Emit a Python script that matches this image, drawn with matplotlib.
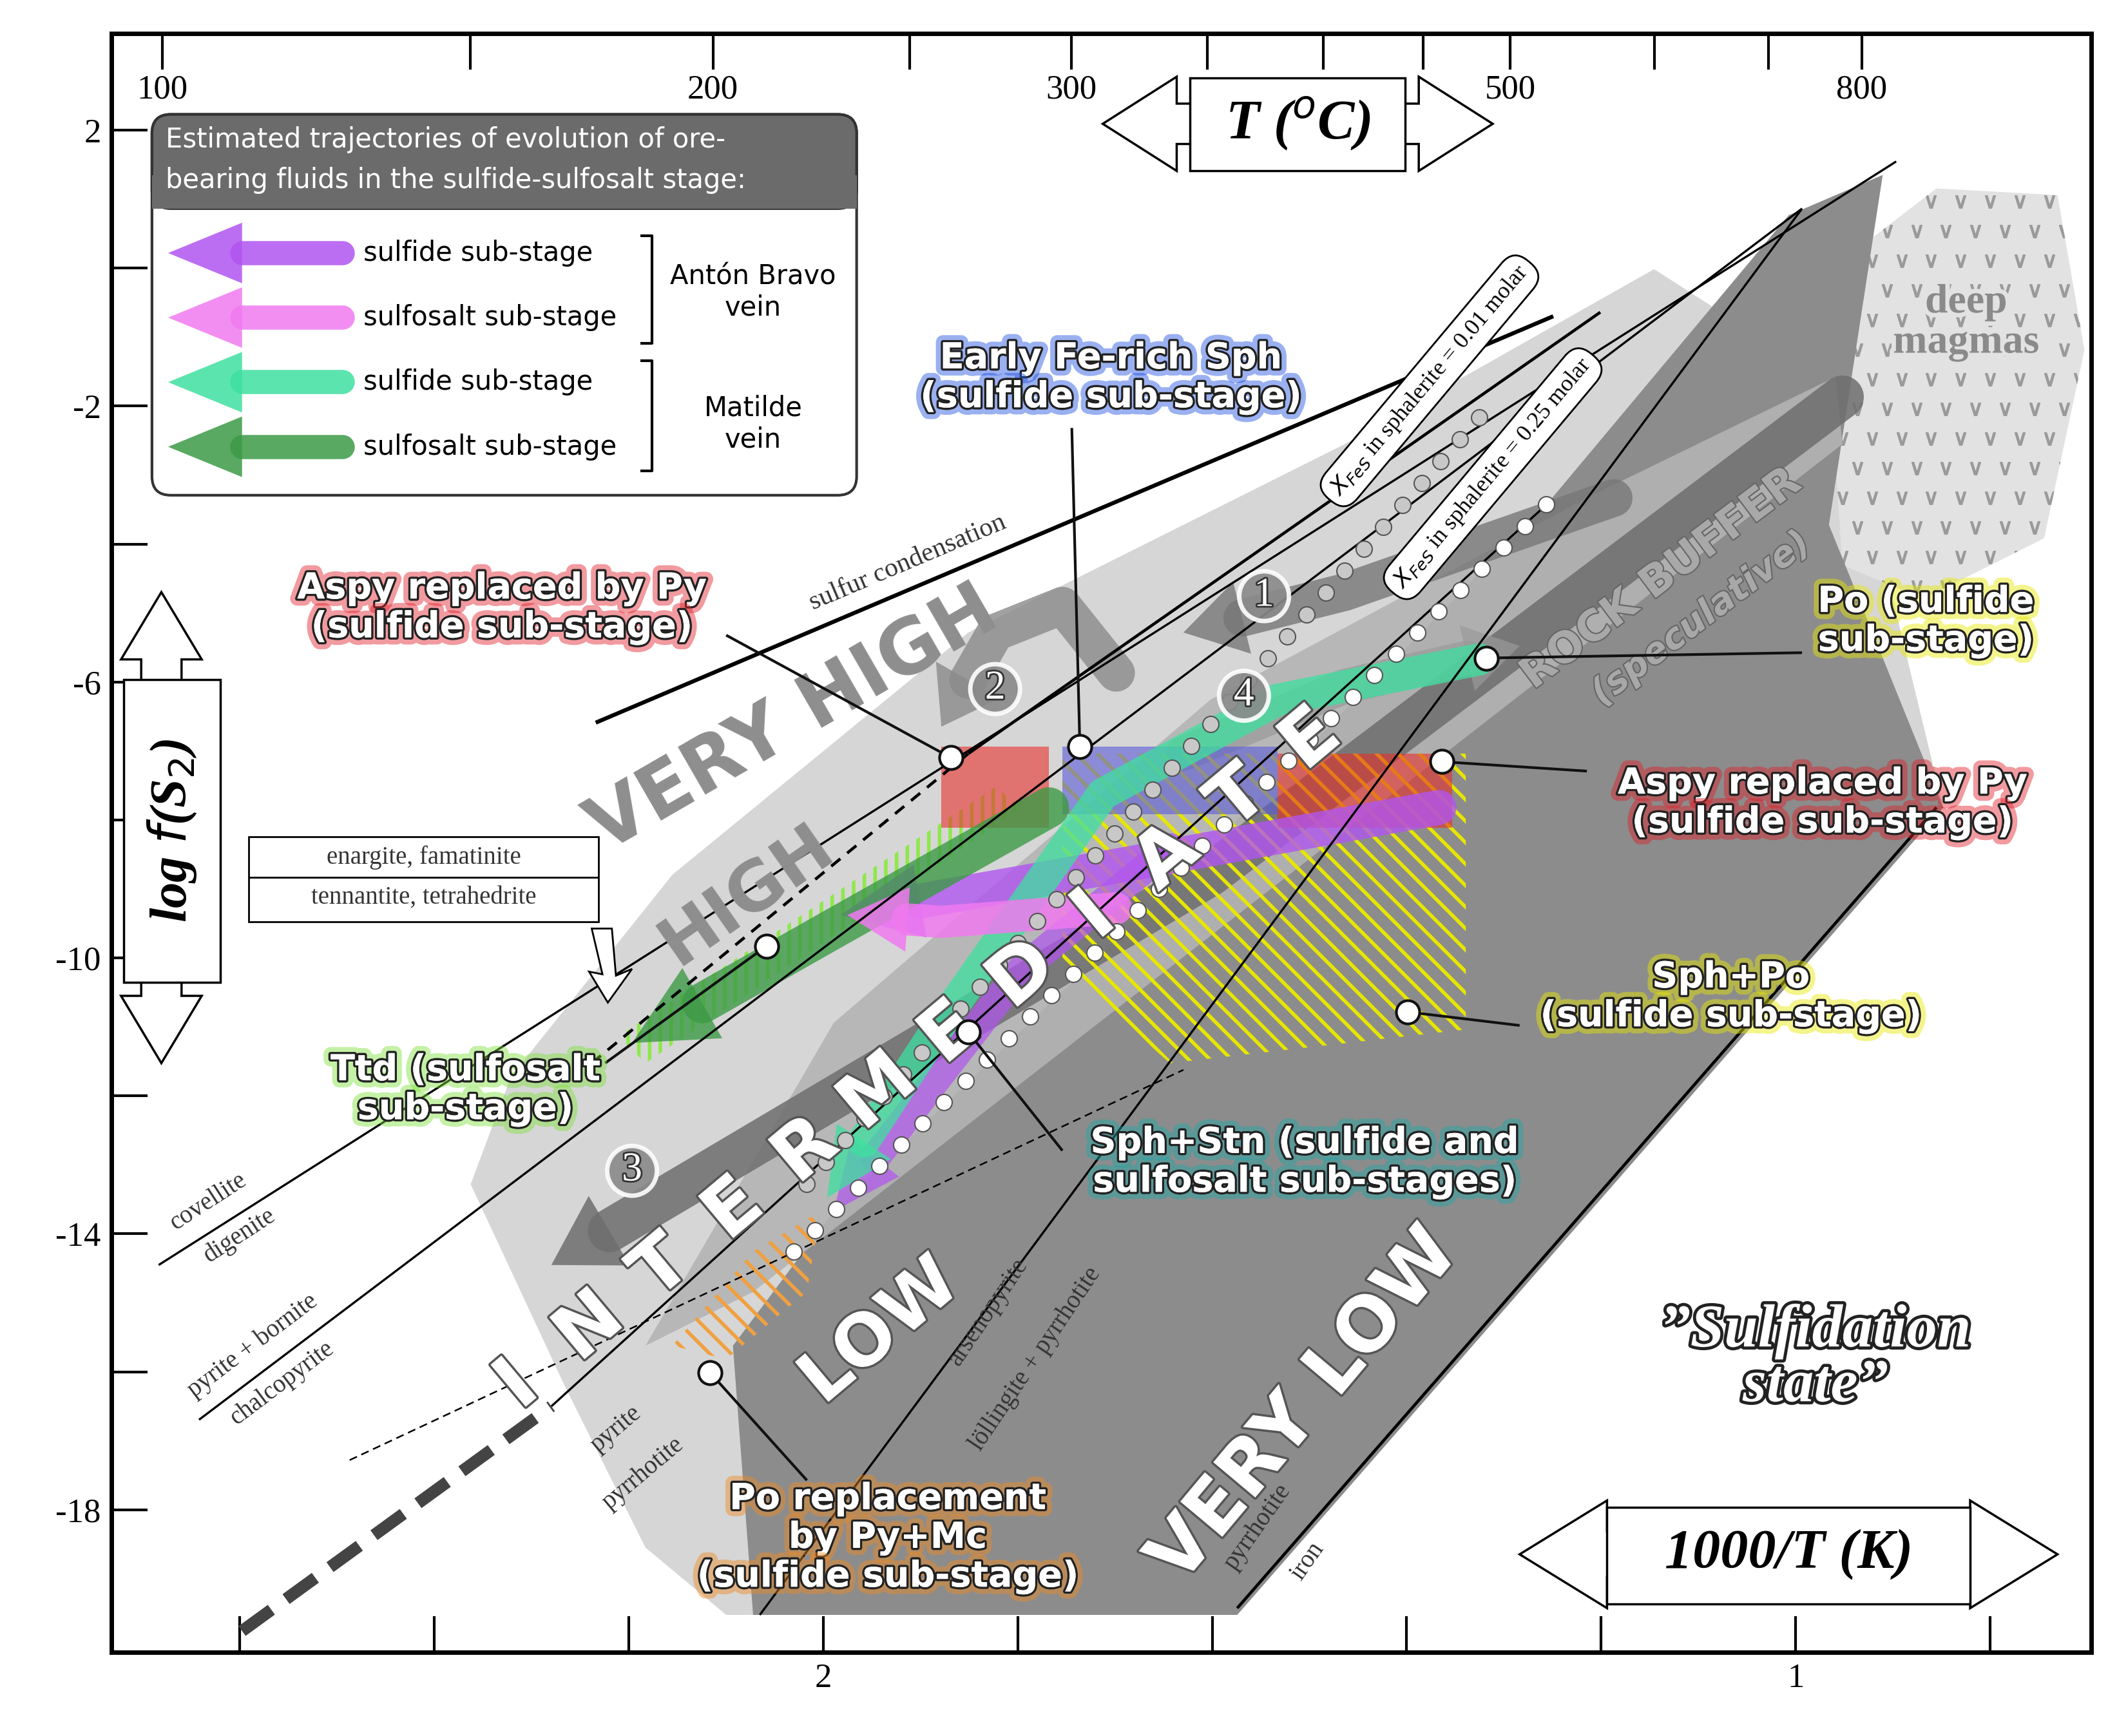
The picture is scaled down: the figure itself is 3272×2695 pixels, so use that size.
import numpy as np
import matplotlib
matplotlib.use("Agg")
import matplotlib.pyplot as plt
from matplotlib.transforms import Affine2D
from matplotlib.patches import Polygon, FancyBboxPatch
import matplotlib.patheffects as pe

plt.rcParams['hatch.linewidth'] = 4

# ---- axis data ----
x_lim = [2.732, 0.696]          # 1000/T(K), reversed
y_lim = [-20.07, 3.40]          # log f(S2)
x_major = [2.0, 1.0]
x_minor = [2.6, 2.4, 2.2, 1.8, 1.6, 1.4, 1.2, 0.8]
y_major = [2, -2, -6, -10, -14, -18]
y_minor = [0, -4, -8, -12, -16]
t_major = [100, 200, 300, 500, 800]
t_minor = [150, 250, 350, 400, 450, 600, 700]

# ---- schematic shapes (reference-image pixel frame) ----
light_zone = [(350, 880), (420, 1030), (480, 1150), (540, 1200), (920, 1200), (1445, 600),
              (1370, 290), (1230, 200), (1000, 330), (720, 470), (500, 650), (380, 800)]
dark_zone = [(560, 1200), (920, 1200), (1445, 600), (1360, 390), (1400, 130),
             (1330, 160), (1150, 375), (880, 650), (620, 900), (545, 1000)]
mid_band = [(480, 1000), (560, 960), (1370, 330), (1365, 280), (1180, 370), (900, 520), (620, 760)]
deep_magma = [(1375, 190), (1440, 140), (1530, 145), (1550, 260), (1520, 400),
              (1430, 445), (1370, 420), (1362, 300)]
hatch_yellow = [(790, 560), (1090, 560), (1090, 765), (870, 790), (790, 720)]
hatch_orange = [(500, 1000), (560, 930), (610, 900), (600, 960), (540, 1010)]
hatch_green = [(460, 770), (740, 585), (760, 600), (480, 790)]
red_rects = [((700, 555), 80, 60), ((950, 560), 130, 55)]
blue_rect = ((790, 555), 160, 50)

line_sulfur = [(443, 537), (1155, 235)]
line_cov = [(118, 940), (1410, 120)]
line_pybn = [(148, 1055), (1340, 155)]
line_en_dash = [(440, 790), (720, 560)]
line_en = [(720, 560), (1190, 232)]
line_pypo = [(410, 1045), (1150, 375)]
line_pypo_thick = [(180, 1212), (410, 1045)]
line_asp = [(260, 1085), (880, 795)]
line_lo = [(565, 1200), (1340, 155)]
line_pofe = [(920, 1195), (1440, 600)]
dots_white = [(590, 930), (1150, 375)]
dots_gray = [(600, 880), (1100, 310)]

fig = plt.figure(figsize=(32.73, 26.95), dpi=100)
ax = fig.add_axes([83/1568, 1 - 1228/1290, 1472/1568, 1203/1290])
ax.set_xlim(x_lim)
ax.set_ylim(y_lim)
T = Affine2D().scale(1/1472, -1/1203).translate(-83/1472, 1228/1203) + ax.transAxes
LW = 1.5  # points per reference pixel

def poly(pts, **kw):
    ax.add_patch(Polygon(pts, closed=True, transform=T, **kw))

def line(pts, **kw):
    p = np.array(pts)
    ax.plot(p[:, 0], p[:, 1], transform=T, solid_capstyle='butt', **kw)

def arrow(pts, w, hw, hl, color, alpha=0.75, z=5):
    p = np.array(pts, float)
    d = p[-1] - p[-2]; d /= np.hypot(*d)
    n = np.array([-d[1], d[0]])
    base = p[-1] - d * hl
    q = p.copy(); q[-1] = base
    ax.plot(q[:, 0], q[:, 1], transform=T, color=color, lw=w*LW, alpha=alpha,
            solid_capstyle='round', zorder=z)
    head = [base + n*hw/2, p[-1], base - n*hw/2]
    poly(head, fc=color, ec='none', alpha=alpha, zorder=z)

# zones
poly(light_zone, fc='#d6d6d6', ec='none', zorder=1)
poly(dark_zone, fc='#8c8c8c', ec='none', zorder=2)
poly(mid_band, fc='#b4b4b4', ec='none', zorder=2, alpha=0.9)
dm = Polygon(deep_magma, closed=True, transform=T, fc='#e2e2e2', ec='none', zorder=1)
ax.add_patch(dm)
gx, gy = np.meshgrid(np.arange(1370, 1550, 22), np.arange(150, 445, 22))
gx = gx + (np.arange(gx.shape[0])[:, None] % 2) * 11
vm, = ax.plot(gx.ravel(), gy.ravel(), ls='none', marker=r'$\vee$', ms=14, color='#9a9a9a',
              transform=T, zorder=1.5)
vm.set_clip_path(dm)
ax.text(1462, 240, 'deep\nmagmas', transform=T, fontsize=46, family='Liberation Serif',
        fontweight='bold', color='#8a8a8a', ha='center', va='center', zorder=3, linespacing=1.1,
        path_effects=[pe.withStroke(linewidth=10, foreground='#e2e2e2')])

# gray numbered arrows
arrow([(1370, 295), (900, 650), (410, 940)], 32, 60, 50, '#6e6e6e', 0.85, 3)
arrow([(1200, 370), (1000, 440), (880, 470)], 28, 55, 45, '#777777', 0.8, 3)
arrow([(830, 500), (790, 450), (740, 470), (700, 540)], 28, 55, 40, '#8a8a8a', 0.8, 3)
arrow([(880, 560), (1000, 510), (1130, 480)], 26, 50, 40, '#9a9a9a', 0.7, 3)

# hatches and rects
poly(hatch_yellow, fc='none', ec='#e6e600', hatch='\\', lw=0, zorder=4)
poly(hatch_orange, fc='none', ec='#f0a040', hatch='\\', lw=0, zorder=4)
poly(hatch_green, fc='none', ec='#8ee84a', hatch='|', lw=0, zorder=4)
for (xy, w, h) in red_rects:
    poly([xy, (xy[0]+w, xy[1]), (xy[0]+w, xy[1]+h), (xy[0], xy[1]+h)], fc='#e8302a', ec='none', alpha=0.6, zorder=4)
(xy, w, h) = blue_rect
poly([xy, (xy[0]+w, xy[1]), (xy[0]+w, xy[1]+h), (xy[0], xy[1]+h)], fc='#5a5ad8', ec='none', alpha=0.6, zorder=4)

# colored trajectories
purple, pink, mint, dgreen = '#b155f0', '#f07af0', '#3ee0a0', '#3c9a46'
arrow([(1070, 600), (850, 640), (625, 680)], 26, 55, 60, purple, 0.8, 6)
arrow([(870, 630), (760, 720), (620, 900)], 22, 45, 50, purple, 0.7, 6)
arrow([(830, 675), (700, 685), (630, 680)], 24, 48, 45, pink, 0.85, 6.5)
arrow([(1100, 490), (950, 520), (820, 590), (700, 760), (615, 890)], 24, 48, 50, mint, 0.75, 6)
arrow([(780, 600), (620, 690), (470, 775)], 30, 60, 60, dgreen, 0.8, 6)

# lines
kw = dict(color='black', zorder=7)
line(line_sulfur, lw=3*LW, **kw)
line(line_cov, lw=1.6*LW, **kw)
line(line_pybn, lw=1.6*LW, **kw)
line(line_en_dash, lw=2.2*LW, ls=(0, (4, 3)), **kw)
line(line_en, lw=2.2*LW, **kw)
line(line_pypo, lw=1.6*LW, **kw)
line(line_pypo_thick, lw=9*LW, ls=(0, (3, 1.5)), color='#444', zorder=7)
line(line_asp, lw=1.2*LW, ls=(0, (5, 3)), **kw)
line(line_lo, lw=1.6*LW, **kw)
line(line_pofe, lw=2.2*LW, **kw)
for seg, fc in [(dots_white, 'white'), (dots_gray, '#c8c8c8')]:
    p = np.array(seg, float)
    t = np.linspace(0, 1, 36)
    ax.plot(p[0, 0] + t*(p[1, 0]-p[0, 0]), p[0, 1] + t*(p[1, 1]-p[0, 1]), 'o', transform=T,
            ms=18, mfc=fc, mec='#555', mew=1.5, zorder=8, ls='none')

# zone labels
big = dict(transform=T, fontweight='bold', ha='center', va='center', family='DejaVu Sans', zorder=9)
ax.text(590, 535, 'VERY HIGH', rotation=30, fontsize=84, color='#8e8e8e', **big)
ax.text(555, 665, 'HIGH', rotation=35, fontsize=76, color='#8e8e8e', **big)
letters = 'INTERMEDIATE'
for i, ch in enumerate(letters):
    f = i / (len(letters) - 1)
    ax.text(385 + f*(975-385), 1030 + f*(550-1030), ch, rotation=40, fontsize=84, color='white',
            path_effects=[pe.withStroke(linewidth=5, foreground='#555')], **big)
ax.text(655, 990, 'LOW', rotation=40, fontsize=80, color='white',
        path_effects=[pe.withStroke(linewidth=5, foreground='#555')], **big)
ax.text(970, 1045, 'VERY LOW', rotation=50, fontsize=84, color='white',
        path_effects=[pe.withStroke(linewidth=5, foreground='#555')], **big)
ax.text(1235, 430, 'ROCK BUFFER', rotation=37, fontsize=48, color='#a8a8a8',
        path_effects=[pe.withStroke(linewidth=3, foreground='#666')], **big)
ax.text(1265, 460, '(speculative)', rotation=37, fontsize=40, color='#a8a8a8', fontstyle='italic',
        path_effects=[pe.withStroke(linewidth=3, foreground='#666')], **big)

# mineral line labels
ser = dict(transform=T, family='Liberation Serif', color='#333', ha='center', va='center', zorder=9)
ax.text(675, 418, 'sulfur condensation', rotation=23, fontsize=30, **ser)
ax.text(155, 893, 'covellite', rotation=33, fontsize=28, **ser)
ax.text(178, 918, 'digenite', rotation=33, fontsize=28, **ser)
ax.text(188, 1000, 'pyrite + bornite', rotation=37, fontsize=28, **ser)
ax.text(210, 1028, 'chalcopyrite', rotation=37, fontsize=28, **ser)
ax.text(458, 1062, 'pyrite', rotation=40, fontsize=28, **ser)
ax.text(478, 1095, 'pyrrhotite', rotation=40, fontsize=28, **ser)
ax.text(735, 975, 'arsenopyrite', rotation=56, fontsize=28, **ser)
ax.text(770, 1010, 'löllingite + pyrrhotite', rotation=56, fontsize=28, **ser)
ax.text(935, 1135, 'pyrrhotite', rotation=55, fontsize=28, **ser)
ax.text(972, 1160, 'iron', rotation=55, fontsize=28, **ser)

# XFeS labels
for (x, y), s in [((1063, 283), '$X_{FeS}$ in sphalerite = 0.01 molar'),
                  ((1110, 352), '$X_{FeS}$ in sphalerite = 0.25 molar')]:
    ax.text(x, y, s, rotation=50, fontsize=26, family='Liberation Serif', transform=T, ha='center',
            va='center', zorder=10, bbox=dict(boxstyle='round,pad=0.35,rounding_size=0.8', fc='white', ec='black', lw=2))

# numbered circles
for (x, y), s in [((940, 443), '1'), ((740, 512), '2'), ((470, 870), '3'), ((925, 517), '4')]:
    ax.text(x, y, s, transform=T, fontsize=46, family='Liberation Serif', color='white', ha='center', va='center',
            zorder=10, path_effects=[pe.withStroke(linewidth=4, foreground='#333')],
            bbox=dict(boxstyle='circle,pad=0.15', fc='#8a8a8a', ec='white', lw=5, alpha=0.9))

# enargite box
poly([(185, 622), (445, 622), (445, 685), (185, 685)], fc='white', ec='black', lw=2, zorder=9)
line([(185, 652), (445, 652)], lw=2, color='black', zorder=10)
ax.text(315, 637, 'enargite, famatinite', fontsize=28, **ser)
ax.text(315, 667, 'tennantite, tetrahedrite', fontsize=28, **ser)
poly([(440, 690), (455, 690), (458, 725), (470, 720), (452, 745), (438, 722), (448, 724)],
     fc='white', ec='black', lw=2, zorder=9)

# callouts
callouts = [
    ('Aspy replaced by Py\n(sulfide sub-stage)', (707, 563), (540, 472), (373, 452), '#e0202a'),
    ('Early Fe-rich Sph\n(sulfide sub-stage)', (803, 555), (797, 318), (826, 281), '#1f50e0'),
    ('Po (sulfide\nsub-stage)', (1105, 489), (1340, 485), (1432, 462), '#e8e800'),
    ('Aspy replaced by Py\n(sulfide sub-stage)', (1072, 566), (1180, 573), (1355, 597), '#e0202a'),
    ('Sph+Po\n(sulfide sub-stage)', (1047, 752), (1130, 762), (1287, 741), '#e8e800'),
    ('Ttd (sulfosalt\nsub-stage)', (570, 703), (450, 790), (346, 810), '#7ee23a'),
    ('Sph+Stn (sulfide and\nsulfosalt sub-stages)', (720, 767), (790, 855), (970, 864), '#20a8a8'),
    ('Po replacement\nby Py+Mc\n(sulfide sub-stage)', (528, 1020), (600, 1100), (660, 1143), '#f08a20'),
]
for s, c, e, tp, col in callouts:
    line([c, e], lw=2*LW, color='#111', zorder=11)
    ax.plot([c[0]], [c[1]], 'o', transform=T, ms=26, mfc='white', mec='#111', mew=3, zorder=12)
    ax.text(tp[0], tp[1], s, transform=T, fontsize=40, fontweight='bold', family='DejaVu Sans',
            color='white', ha='center', va='center', zorder=13, linespacing=1.15,
            path_effects=[pe.withStroke(linewidth=16, foreground=col, alpha=0.45),
                          pe.withStroke(linewidth=5, foreground='#222'), pe.Normal()])

# Sulfidation state
ax.text(1350, 1010, '\u201dSulfidation\nstate\u201d', transform=T, fontsize=68, fontweight='bold',
        fontstyle='italic', family='Liberation Serif', color='white', ha='center', va='center', zorder=13,
        linespacing=1.0, path_effects=[pe.withStroke(linewidth=7, foreground='#222')])

# double arrows
def dbl_arrow(cx, cy, L, w, hw, hl, vertical=False):
    pts = [(-L/2, 0), (-L/2+hl, hw/2), (-L/2+hl, w/2), (L/2-hl, w/2), (L/2-hl, hw/2), (L/2, 0),
           (L/2-hl, -hw/2), (L/2-hl, -w/2), (-L/2+hl, -w/2), (-L/2+hl, -hw/2)]
    pts = [(cx + (y if vertical else x), cy + (x if vertical else y)) for x, y in pts]
    poly(pts, fc='white', ec='black', lw=2.5, zorder=14)

dbl_arrow(965, 92, 290, 30, 70, 55)
poly([(885, 58), (1045, 58), (1045, 127), (885, 127)], fc='white', ec='black', lw=2.5, zorder=15)
ax.text(965, 92, 'T ($^o$C)', transform=T, fontsize=62, fontweight='bold', fontstyle='italic',
        family='Liberation Serif', ha='center', va='center', zorder=16)
dbl_arrow(1330, 1155, 400, 34, 80, 65)
poly([(1195, 1120), (1465, 1120), (1465, 1192), (1195, 1192)], fc='white', ec='black', lw=2.5, zorder=15)
ax.text(1330, 1155, '1000/T (K)', transform=T, fontsize=62, fontweight='bold', fontstyle='italic',
        family='Liberation Serif', ha='center', va='center', zorder=16)
dbl_arrow(120, 615, 350, 30, 60, 50, vertical=True)
poly([(92, 505), (164, 505), (164, 730), (92, 730)], fc='white', ec='black', lw=2.5, zorder=15)
ax.text(128, 617, 'log $f$(S$_2$)', transform=T, fontsize=58, fontweight='bold', fontstyle='italic',
        family='Liberation Serif', ha='center', va='center', rotation=90, zorder=16)

# legend
ax.add_patch(FancyBboxPatch((113, 85), 524, 283, boxstyle='round,pad=0,rounding_size=14', transform=T,
                            fc='white', ec='#333', lw=3, zorder=14))
ax.add_patch(FancyBboxPatch((113, 85), 524, 70, boxstyle='round,pad=0,rounding_size=14', transform=T,
                            fc='#6b6b6b', ec='#333', lw=3, zorder=14))
poly([(113, 130), (637, 130), (637, 155), (113, 155)], fc='#6b6b6b', ec='none', zorder=14)
ax.text(123, 104, 'Estimated trajectories of evolution of ore-', transform=T, fontsize=30, color='white',
        ha='left', va='center', zorder=15)
ax.text(123, 134, 'bearing fluids in the sulfide-sulfosalt stage:', transform=T, fontsize=30, color='white',
        ha='left', va='center', zorder=15)
leg_labels = ['sulfide sub-stage', 'sulfosalt sub-stage', 'sulfide sub-stage', 'sulfosalt sub-stage']
leg_colors = [purple, pink, mint, dgreen]
leg_y = [188, 236, 284, 332]
for lab, col, y in zip(leg_labels, leg_colors, leg_y):
    arrow([(255, y), (125, y)], 18, 45, 55, col, 0.85, 15)
    ax.text(270, y, lab, transform=T, fontsize=30, ha='left', va='center', zorder=15)
for y0, y1 in [(175, 255), (268, 350)]:
    line([(476, y0), (485, y0), (485, y1), (476, y1)], lw=2*LW, color='black', zorder=15)
ax.text(560, 217, 'Antón Bravo\nvein', transform=T, fontsize=30, ha='center', va='center', zorder=15)
ax.text(560, 315, 'Matilde\nvein', transform=T, fontsize=30, ha='center', va='center', zorder=15)

# axes & ticks
for sp in ax.spines.values():
    sp.set_linewidth(5)
ax.set_xticks(x_major)
ax.set_xticks(x_minor, minor=True)
ax.set_xticklabels(['2', '1'])
ax.set_yticks(y_major)
ax.set_yticks(y_minor, minor=True)
ax.set_yticklabels([str(v) if v >= 0 else '-' + str(-v) for v in y_major])
ax.tick_params(which='both', direction='in', width=3, labelsize=38, pad=12, length=40)
for lbl in ax.get_xticklabels() + ax.get_yticklabels():
    lbl.set_family('Liberation Serif')

top = ax.secondary_xaxis('top', functions=(lambda x: 1000/np.asarray(x) - 273.15,
                                           lambda t: 1000/(np.asarray(t) + 273.15)))
top.set_xticks(t_major)
top.set_xticks(t_minor, minor=True)
top.tick_params(which='both', direction='in', width=3, length=40, labelsize=38, pad=-80)
for lbl in top.get_xticklabels():
    lbl.set_family('Liberation Serif')

fig.savefig('out.png', dpi=100)
